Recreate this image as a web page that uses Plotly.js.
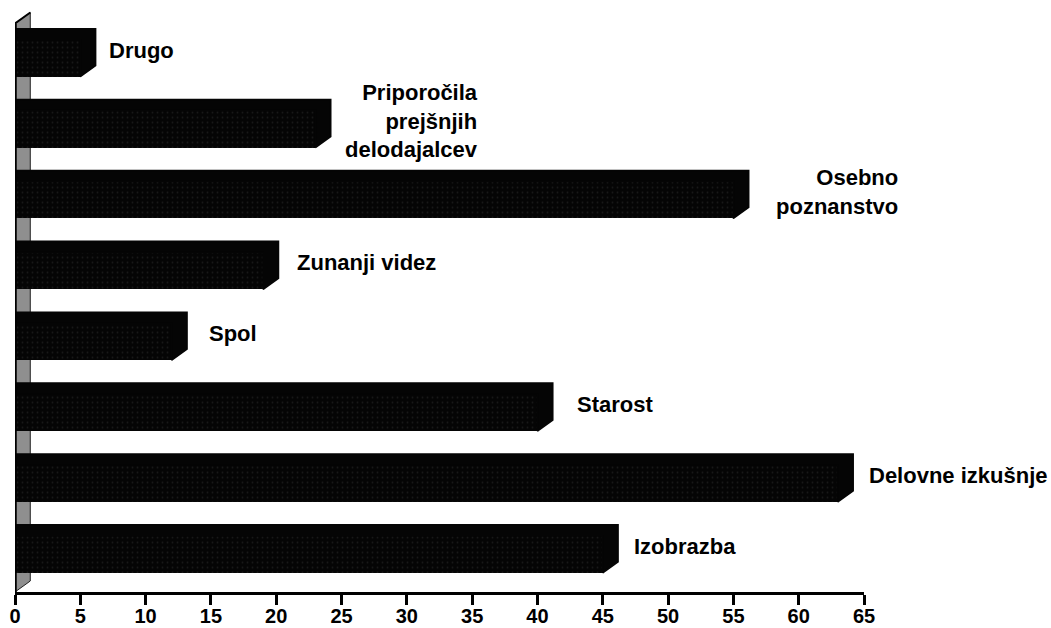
<!DOCTYPE html>
<html>
<head>
<meta charset="utf-8">
<script src="https://cdn.plot.ly/plotly-3.0.1.min.js"></script>
<style>
  html, body { margin: 0; padding: 0; background: #ffffff; }
  #chart { width: 1051px; height: 628px; }
</style>
</head>
<body>
<div id="chart"></div>
<script>
// ---- data (bottom to top) ----
const categories = ['Izobrazba', 'Delovne izkušnje', 'Starost', 'Spol', 'Zunanji videz',
                    'Osebno poznanstvo', 'Priporočila prejšnjih delodajalcev', 'Drugo'];
const values = [45, 63, 40, 12, 19, 55, 23, 5];
const labelLines = ['Izobrazba', 'Delovne izkušnje', 'Starost', 'Spol', 'Zunanji videz',
                    'Osebno<br>poznanstvo', 'Priporočila<br>prejšnjih<br>delodajalcev', 'Drugo'];
const xTickVals = [0, 5, 10, 15, 20, 25, 30, 35, 40, 45, 50, 55, 60, 65];

// ---- layout / style constants ----
const labelShift = [29, 29, 38, 35, 32, 41, 28, 27];   // px gap label <- bar end
const halfH = 0.261;     // half-height of bar front face (category units)
const depthX = 1.17;     // 3D depth offset along x (value units)
const depthY = 0.155;    // 3D depth offset along y (category units)
const yMin = -0.532, yMax = 7.68;
const wallTop = 7.49;

const pos = categories.map((c, i) => i);

// depth faces (top + right side) of each 3D bar, built from the values
const dX = [], dY = [];
values.forEach((v, i) => {
  const c = pos[i];
  dX.push(0, 0, v + depthX, v + depthX, v, v, 0, null);
  dY.push(c + halfH, c + halfH + depthY, c + halfH + depthY, c - halfH + depthY, c - halfH, c + halfH, c + halfH, null);
});

const depthTrace = {
  type: 'scatter', mode: 'lines', x: dX, y: dY,
  fill: 'toself', fillcolor: '#050505',
  line: { width: 1.6, color: '#050505' },
  hoverinfo: 'skip', showlegend: false
};

const barTrace = {
  type: 'bar', orientation: 'h',
  x: values, y: pos, width: 2 * halfH,
  text: categories, hoverinfo: 'text+x', textposition: 'none',
  marker: {
    color: '#050505',
    line: { width: 0 },
    pattern: { shape: '.', fgcolor: '#2c2c2c', size: 5, solidity: 0.1, fillmode: 'overlay' }
  },
  showlegend: false
};

const labelFont = { family: 'Arial, "Liberation Sans", sans-serif', size: 22, color: '#000', weight: 'bold' };

const annotations = values.map((v, i) => ({
  x: v, y: pos[i], xref: 'x', yref: 'y',
  text: labelLines[i], showarrow: false,
  xanchor: 'left', yanchor: 'middle', align: 'right',
  xshift: labelShift[i], yshift: 8,
  font: labelFont
}));

const shapes = [
  { // back wall
    type: 'path', xref: 'x', yref: 'y', layer: 'below',
    path: `M 0,${yMin} L 0,${wallTop} L ${depthX},${wallTop + depthY} L ${depthX},${yMin + depthY} Z`,
    fillcolor: '#8f8f8f', line: { color: '#222', width: 1 }
  },
  { // thick left edge
    type: 'line', xref: 'x', yref: 'y', layer: 'above',
    x0: 0, x1: 0, y0: yMin, y1: wallTop,
    line: { color: '#000', width: 3.5 }
  },
  { // top slanted edge of wall
    type: 'line', xref: 'x', yref: 'y', layer: 'above',
    x0: 0, x1: depthX, y0: wallTop, y1: wallTop + depthY,
    line: { color: '#000', width: 2 }
  }
];

const layout = {
  width: 1051, height: 628,
  margin: { l: 15, r: 187, t: 10, b: 36 },
  paper_bgcolor: '#ffffff', plot_bgcolor: '#ffffff',
  showlegend: false,
  bargap: 0,
  xaxis: {
    range: [0, 65], tickvals: xTickVals, ticktext: xTickVals.map(String),
    showgrid: false, zeroline: false,
    showline: true, linecolor: '#000', linewidth: 3,
    ticks: 'outside', ticklen: 10, tickwidth: 3, tickcolor: '#000',
    ticklabelstandoff: -6,
    tickfont: { family: 'Arial, "Liberation Sans", sans-serif', size: 20, color: '#000', weight: 'bold' },
    fixedrange: true
  },
  yaxis: {
    range: [yMin, yMax], showgrid: false, zeroline: false, showline: false,
    showticklabels: false, ticks: '', fixedrange: true
  },
  annotations: annotations,
  shapes: shapes
};

Plotly.newPlot('chart', [barTrace, depthTrace], layout, { displayModeBar: false, staticPlot: true });
</script>
</body>
</html>
